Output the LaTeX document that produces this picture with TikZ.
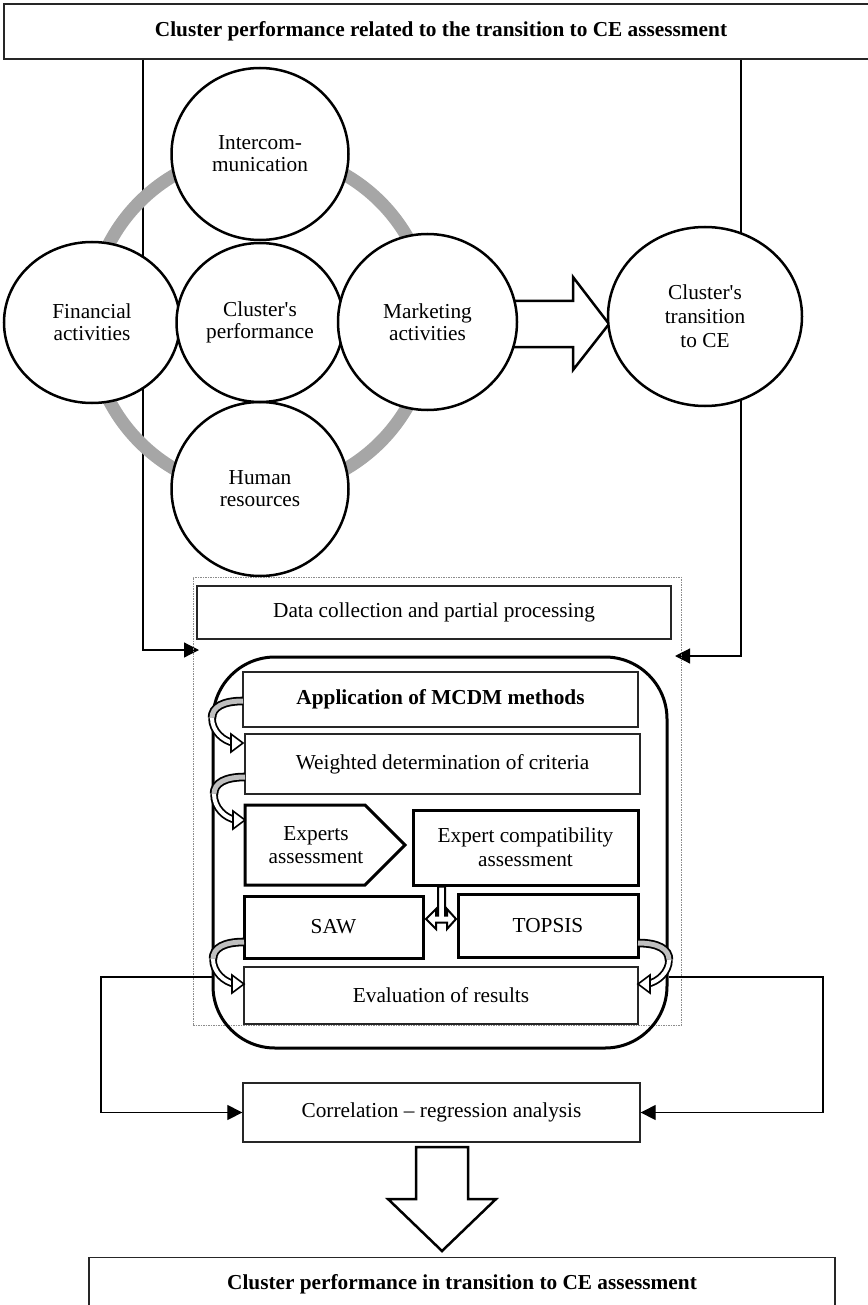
\documentclass[tikz,border=0pt]{standalone}
\usepackage{fontspec}
\setmainfont{Liberation Serif}
\usetikzlibrary{shapes.geometric,arrows.meta}
\tikzset{
  txt/.style={font=\fontsize{21.3}{23}\selectfont},
  thinbox/.style={draw=black!85, line width=1.3pt, fill=white, inner sep=0pt, align=center, txt},
  thickbox/.style={draw=black, line width=3pt, fill=white, inner sep=0pt, align=center, txt},
  bubble/.style={ellipse, draw=black, line width=2.5pt, fill=white, inner sep=0pt, align=center, font=\fontsize{21.3}{22}\selectfont},
  conn/.style={line width=1.2pt, draw=black},
  tipa/.style={-{Triangle[length=15pt,width=15pt]}},
  block/.style={draw=black, line width=2.5pt, fill=white, line join=miter},
  ring/.style={draw=black!35, line width=13pt},
  frame/.style={draw=black!45, line width=0.6pt, dash pattern=on 1.5pt off 1pt},
}
\newcommand\hookarr[4]{%
  \draw[line width=1.8pt, double=black!25, double distance=5pt]
    (#1,#2) .. controls ({#1-20*#4},#2) and ({#1-31*#4},{#2+6}) .. ({#1-31*#4},{#2+17});
  \draw[line width=1.8pt, double=white, double distance=4pt]
    ({#1-31*#4},{#2+17}) .. controls ({#1-31*#4},{#3-12}) and ({#1-20*#4},{#3-2}) .. ({#1-9*#4},#3);
  \filldraw[fill=white, line width=1.6pt, line join=miter]
    (#1,#3) -- ({#1-12*#4},{#3-9}) -- ({#1-12*#4},{#3+9}) -- cycle;
}
\begin{document}
\begin{tikzpicture}[x=1pt,y=-1pt]
\useasboundingbox (0,0) rectangle (867,1305);

% top title box
\node[thinbox, minimum width=874pt, minimum height=55pt, font=\fontsize{21.3}{23}\selectfont\bfseries] (top) at (441,31.5)
  {Cluster performance related to the transition to CE assessment};

\coordinate (lx) at (143,0);
\coordinate (rx) at (741,0);
\coordinate (inL) at (199,650);
\coordinate (inR) at (675,656);
\draw[conn, tipa] (top.south -| lx) |- (inL);
\draw[conn, tipa] (top.south -| rx) |- (inR);

% ring
\draw[ring] (260,322) circle[radius=170pt];

% block arrow marketing -> transition
\filldraw[block] (505,301) -- (573,301) -- (573,277) -- (609,324) -- (573,370) -- (573,347) -- (505,347);

% circles
\node[bubble, minimum width=176pt, minimum height=161pt] (fin) at (92,322.5) {Financial\\activities};
\node[bubble, minimum width=177pt, minimum height=172pt] (inter) at (260,154) {Intercom-\\munication};
\node[bubble, minimum width=177pt, minimum height=174pt] (hum) at (260,489) {Human\\resources};
\node[bubble, minimum width=167pt, minimum height=159pt] (cp) at (260,322.5) {Cluster\textquotesingle s\\performance};
\node[bubble, minimum width=179pt, minimum height=176pt] (mkt) at (427.5,322) {Marketing\\activities};
\node[bubble, minimum width=194pt, minimum height=179pt, font=\fontsize{21.3}{24}\selectfont] (trans) at (705,316.5) {Cluster\textquotesingle s\\transition\\to CE};

% dotted frame and data box
\node[frame, minimum width=488pt, minimum height=448pt, inner sep=0pt] (frm) at (437,801) {};
\node[thinbox, minimum width=474pt, minimum height=53pt] (data) at (434,612.5) {Data collection and partial processing};

% rounded MCDM container
\node[draw=black, line width=3pt, rounded corners=62pt, minimum width=454pt, minimum height=391pt, inner sep=0pt] (mcdm) at (440,852.5) {};

% inner boxes
\node[thinbox, minimum width=395pt, minimum height=55pt, font=\fontsize{21.3}{23}\selectfont\bfseries] (app) at (440.5,699.5) {Application of MCDM methods};
\node[thinbox, minimum width=395pt, minimum height=60pt] (wgt) at (442.5,764) {Weighted determination of criteria};
\filldraw[draw=black, fill=white, line width=3pt, line join=miter] (245,805) -- (365,805) -- (405,845) -- (365,885) -- (245,885) -- cycle;
\node[txt, align=center, inner sep=0pt, font=\fontsize{21.3}{23}\selectfont] (exp) at (316,845) {Experts\\assessment};
\node[thickbox, minimum width=225pt, minimum height=75pt, font=\fontsize{21.3}{24}\selectfont] (ec) at (525.5,847.5) {Expert compatibility\\assessment};
\node[thickbox, minimum width=179pt, minimum height=62pt] (saw) at (333.5,927) {SAW};
\node[thickbox, minimum width=180pt, minimum height=63pt] (tps) at (548,925.5) {TOPSIS};
\node[thinbox, minimum width=394pt, minimum height=57pt] (eval) at (441,995.5) {Evaluation of results};

% T-shaped double arrow
\filldraw[draw=black, fill=white, line width=2pt, line join=miter]
  (426,919) -- (436,909) -- (436,915.5) -- (438,915.5) -- (438,886.5) -- (445,886.5) -- (445,915.5)
  -- (447,915.5) -- (447,909) -- (456,919) -- (447,929) -- (447,922.5) -- (436,922.5) -- (436,929) -- cycle;

% curved arrows
\hookarr{243}{701}{743}{1}
\hookarr{245}{777}{820}{1}
\hookarr{244}{942}{984}{1}
\hookarr{638}{943}{984}{-1}

% correlation box and connectors
\node[thinbox, minimum width=397pt, minimum height=59pt] (corr) at (441.5,1112.5) {Correlation -- regression analysis};
\coordinate (llx) at (101,0);
\coordinate (rrx) at (823,0);
\coordinate (ly) at (0,977);
\draw[conn, tipa] (mcdm.west |- ly) -| (llx |- corr.west) -- (corr.west);
\draw[conn, tipa] (mcdm.east |- ly) -| (rrx |- corr.east) -- (corr.east);

% down block arrow
\filldraw[block] (416,1147) -- (468,1147) -- (468,1199) -- (496,1199) -- (442,1251) -- (388,1199) -- (416,1199) -- cycle;

% result box
\node[thinbox, minimum width=746pt, minimum height=66pt, anchor=north] (res) at (462,1257) {};
\node[txt, inner sep=0pt, font=\fontsize{21.3}{23}\selectfont\bfseries] (restxt) at (462,1284) {Cluster performance in transition to CE assessment};
\end{tikzpicture}
\end{document}
